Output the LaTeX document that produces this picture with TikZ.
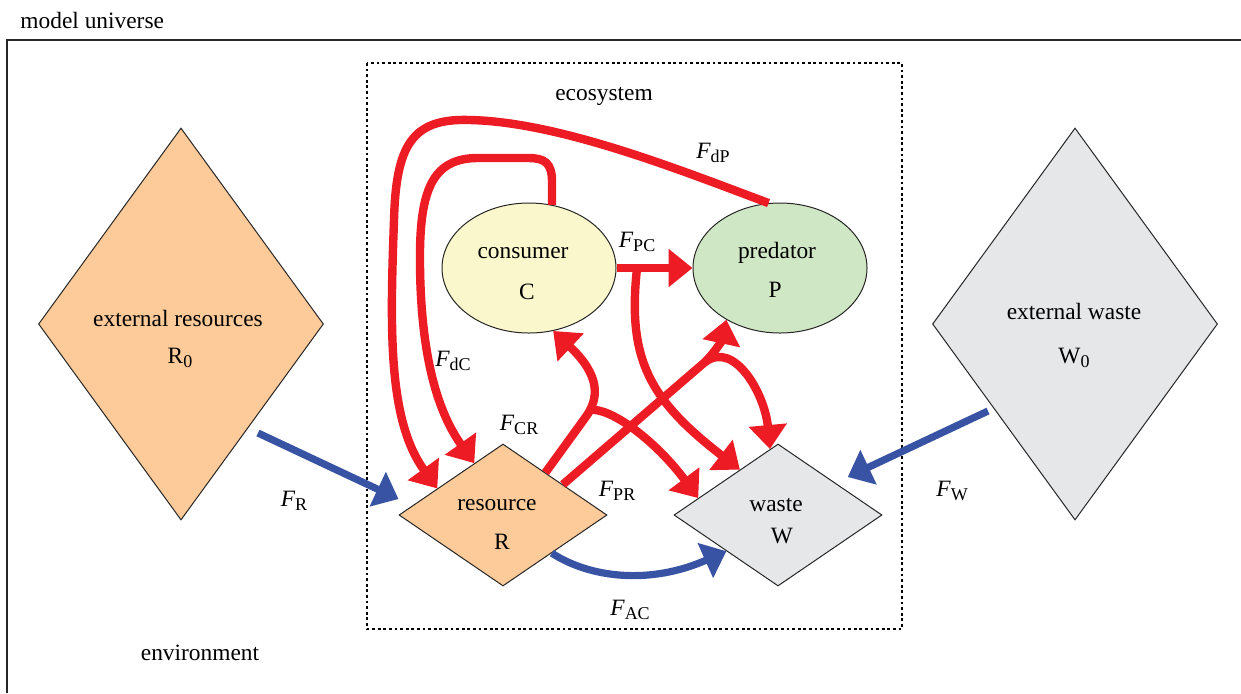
\documentclass[tikz,border=0pt]{standalone}
\usepackage{fontspec}
\setmainfont{Liberation Serif}
\usetikzlibrary{shapes.geometric,arrows.meta,calc}
\definecolor{flowred}{RGB}{237,28,36}
\definecolor{flowblue}{RGB}{57,83,164}
\definecolor{resorange}{RGB}{253,203,153}
\definecolor{consyellow}{RGB}{251,247,204}
\definecolor{predgreen}{RGB}{208,231,197}
\definecolor{wastegray}{RGB}{230,231,232}
\newcommand{\lowsub}[1]{\raisebox{-0.35ex}{\fontsize{9}{9}\selectfont #1}}
\newcommand{\flux}[1]{\textit{F}\lowsub{#1}}

\begin{document}
\begin{tikzpicture}[
  x=0.5pt, y=-0.5pt,
  font=\fontsize{11.7}{14}\selectfont,
  pool/.style={diamond, draw=black!85, line width=0.5pt, inner sep=0pt, fill=#1},
  bigpool/.style={pool=#1, minimum width=142.5pt, minimum height=196pt},
  smallpool/.style={pool=#1, minimum width=104pt, minimum height=71pt},
  species/.style={ellipse, draw=black!85, line width=0.5pt, inner sep=0pt, fill=#1, minimum width=87pt, minimum height=65pt},
  txt/.style={inner sep=0pt},
  redflow/.style={-{Triangle[length=12pt, width=18.5pt]}, line width=4.2pt, flowred},
  blueflow/.style={-{Triangle[length=11.5pt, width=18.5pt]}, line width=3.6pt, flowblue},
  lbl/.style={inner sep=0pt}
]
  \useasboundingbox (0,0) rectangle (1241,693);

  % frames
  \draw[line width=1.25pt, black!85] (7,693) -- (7,40) -- (1241,40);
  \draw[line width=1.1pt, dash pattern=on 1.4pt off 1.4pt] (367,63) rectangle (902,629);
  \node[txt, anchor=west] (univ) at (20,20) {model universe};
  \node[txt] (eco) at (604,96) {ecosystem};
  \node[txt] (env) at (200,653) {environment};

  % pools and species
  \node[bigpool=resorange]   (R0) at (181,324) {};
  \node[bigpool=wastegray]   (W0) at (1075,324) {};
  \node[smallpool=resorange] (R)  at (503,515) {};
  \node[smallpool=wastegray] (W)  at (778,515) {};
  \node[species=consyellow]  (C)  at (529,268) {};
  \node[species=predgreen]   (P)  at (780,268) {};

  \node[txt] (R0a) at (178,318) {external resources};
  \node[txt] (R0b) at (180,358) {R\lowsub{0}};
  \node[txt] (W0a) at (1074,311) {external waste};
  \node[txt] (W0b) at (1074,358) {W\lowsub{0}};
  \node[txt] (Ra)  at (497,505) {resource};
  \node[txt] (Rb)  at (502,542) {R};
  \node[txt] (Wa)  at (776,505) {waste};
  \node[txt] (Wb)  at (782,536) {W};
  \node[txt] (Ca)  at (523,253) {consumer};
  \node[txt] (Cb)  at (527,292) {C};
  \node[txt] (Pa)  at (777,253) {predator};
  \node[txt] (Pb)  at (775,290) {P};

  % red flows inside the ecosystem
  \draw[redflow] (P.100) .. controls (680,170) and (560,122) .. (470,120)
    .. controls (412,118) and (396,145) .. (394,220)
    .. controls (390,330) and (388,420) .. (R.158);
  \draw[redflow] (C.70) -- (552,182) .. controls (552,163) and (545,158) .. (528,158)
    -- (478,158) .. controls (434,158) and (421,188) .. (420,250)
    .. controls (419,360) and (440,415) .. (R.119);
  \draw[redflow] (C.east) -- (P.west);
  \coordinate (pcj) at ($(C.east)!0.27!(P.west)$);
  \draw[redflow] (pcj) .. controls (627,360) and (650,400) .. (W.130);
  \draw[redflow] (R.45) -- (585,418) .. controls (600,398) and (600,375) .. (C.291);
  \coordinate (crj) at (590,410);
  \draw[redflow] (crj) .. controls (610,407) and (655,440) .. (W.168);
  \coordinate (prj) at (705,362);
  \draw[redflow] (R.27) -- (prj) .. controls (715,352) and (722,340) .. (P.224);
  \draw[redflow] (prj) .. controls (735,340) and (765,395) .. (W.97);

  % blue flows
  \coordinate (fr) at (258,433);
  \coordinate (fw) at (988,411);
  \draw[blueflow] (fr) -- ([yshift=8pt]R.west);
  \draw[blueflow] (fw) -- ([xshift=6pt, yshift=3pt]W.29);
  \draw[blueflow] (R.-38) .. controls (590,578) and (650,585) .. (W.215);

  % flux labels
  \foreach \s/\x/\y in {dP/713/153, PC/637/242, dC/453/361, CR/519/425,
                        PR/617/491, AC/630/610, R/294/501, W/952/491}{
    \node[lbl] (F\s) at (\x,\y) {\flux{\s}};
  }
\end{tikzpicture}
\end{document}
